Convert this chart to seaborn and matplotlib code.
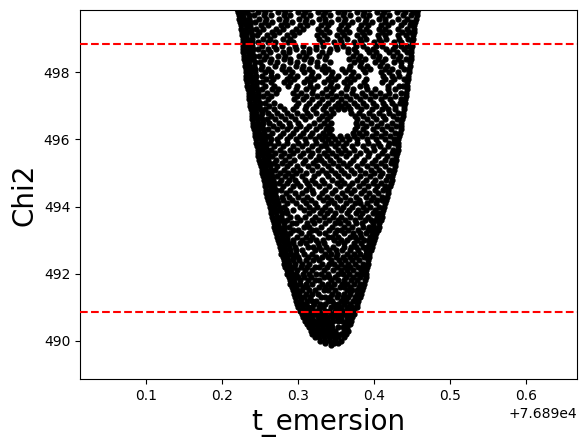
import numpy as np
import pandas as pd
import matplotlib
matplotlib.use("Agg")
import matplotlib.pyplot as plt
import seaborn as sns

# t_emersion values are stored as offsets from T0 in thousandths of a day
T0 = 76890.0

# bottom of the chi2 well
tip_rows = [
    (489.86, [343]),
    (489.92, [336, 347, 352]),
    (490.0, [329, 336, 342, 349, 356]),
    (490.1, [322, 328, 334, 341, 347, 353, 360]),
    (490.2, [319, 325, 331, 338, 344, 350, 357, 363]),
    (490.3, [317, 323, 330, 336, 342, 348, 361, 366]),
    (490.4, [314, 320, 326, 333, 339, 345, 352, 359, 365]),
    (490.5, [312, 318, 325, 331, 337, 343, 362, 368]),
    (490.6, [309, 315, 321, 327, 334, 340, 346, 352, 358, 364, 370]),
    (490.7, [307, 313, 319, 326, 332, 338, 345, 351, 357, 364, 371]),
    (490.8, [305, 311, 317, 324, 330, 336, 343, 349, 355, 362, 368, 373]),
    (490.9, [303, 309, 316, 322, 328, 335, 341, 348, 354, 360, 367, 374]),
]

lower_rows = [
    (491.0, [300, 306, 313, 318, 327, 333, 344, 350, 356, 365, 371, 377]),
    (491.1, [299, 305, 310, 321, 329, 336, 347, 353, 361, 369, 378]),
    (491.2, [298, 304, 312, 318, 324, 339, 345, 357, 363, 372, 379]),
    (491.3, [296, 302, 308, 316, 330, 336, 342, 351, 359, 366, 375, 381]),
    (491.4, [295, 301, 311, 318, 326, 345, 352, 361, 369, 377, 383]),
    (491.5, [293, 299, 305, 315, 322, 334, 340, 349, 364, 371, 378, 384]),
    (491.6, [292, 298, 306, 312, 327, 336, 343, 355, 361, 369, 380, 386]),
    (491.7, [290, 296, 302, 310, 319, 331, 339, 347, 358, 365, 374, 381, 387]),
    (491.8, [289, 295, 303, 313, 322, 328, 344, 352, 360, 370, 378, 388]),
    (491.9, [288, 294, 300, 308, 317, 334, 341, 349, 363, 372, 382, 389]),
    (492.0, [286, 292, 298, 306, 314, 324, 330, 339, 353, 359, 367, 377, 384, 390]),
    (492.1, [285, 291, 299, 309, 318, 334, 346, 356, 364, 372, 383, 390]),
    (492.2, [283, 289, 295, 304, 312, 322, 328, 338, 351, 362, 369, 379, 386, 391]),
    (492.3, [282, 288, 296, 305, 315, 332, 341, 347, 357, 366, 375, 385, 392]),
    (492.4, [281, 287, 293, 301, 310, 320, 327, 344, 354, 362, 371, 380, 392]),
    (492.5, [280, 286, 293, 300, 313, 323, 331, 339, 350, 359, 368, 376, 387, 393]),
    (492.6, [278, 284, 291, 298, 308, 318, 335, 344, 351, 365, 373, 381, 389, 394]),
    (492.7, [277, 283, 289, 297, 305, 322, 330, 341, 350, 358, 369, 379, 390, 396]),
    (492.8, [276, 282, 288, 296, 313, 320, 327, 337, 346, 361, 370, 376, 385, 391, 397]),
    (492.9, [275, 281, 287, 294, 302, 310, 326, 334, 353, 361, 374, 383, 393, 399]),
]

middle_rows = [
    (493.0, [274, 280, 286, 294, 305, 316, 323, 333, 347, 356, 364, 378, 387, 394, 400]),
    (493.1, [273, 279, 285, 299, 310, 319, 339, 345, 353, 368, 375, 383, 395, 401]),
    (493.2, [271, 277, 283, 290, 304, 314, 327, 335, 349, 360, 372, 381, 390, 397, 403]),
    (493.3, [270, 276, 282, 294, 300, 318, 324, 341, 351, 357, 366, 379, 392, 399, 405]),
    (493.4, [269, 275, 281, 288, 308, 315, 330, 345, 360, 371, 386, 394, 400, 406]),
    (493.5, [268, 274, 282, 292, 298, 312, 321, 336, 348, 355, 366, 376, 384, 398, 407]),
    (493.6, [267, 273, 279, 286, 303, 318, 327, 341, 352, 362, 375, 388, 396, 403, 409]),
    (493.7, [266, 272, 278, 290, 299, 309, 322, 334, 346, 357, 369, 381, 392, 404, 410]),
    (493.8, [265, 271, 279, 285, 314, 329, 338, 349, 364, 376, 384, 398, 405, 411]),
    (493.9, [264, 270, 276, 284, 293, 308, 320, 332, 342, 356, 367, 379, 390, 401, 412]),
    (494.0, [263, 269, 275, 281, 302, 315, 325, 336, 351, 359, 371, 386, 395, 407, 413]),
    (494.1, [262, 268, 274, 286, 298, 310, 322, 340, 347, 363, 375, 381, 391, 402, 414]),
    (494.2, [260, 266, 273, 280, 292, 306, 317, 333, 344, 355, 368, 380, 396, 404, 410, 416]),
    (494.3, [259, 265, 271, 279, 288, 300, 312, 327, 338, 351, 362, 376, 389, 398, 411, 417]),
    (494.4, [258, 264, 270, 284, 296, 305, 320, 331, 345, 358, 370, 383, 393, 405, 418]),
    (494.5, [258, 264, 271, 278, 289, 310, 318, 336, 349, 364, 374, 387, 401, 412, 419]),
    (494.6, [257, 263, 269, 280, 293, 302, 315, 328, 341, 355, 367, 380, 392, 404, 415, 421]),
    (494.7, [256, 262, 268, 275, 286, 299, 312, 322, 334, 351, 360, 371, 385, 398, 409, 422]),
    (494.8, [255, 261, 267, 277, 288, 296, 309, 318, 331, 345, 357, 377, 390, 401, 416, 423]),
    (494.9, [254, 260, 266, 272, 283, 292, 305, 321, 339, 352, 366, 382, 395, 408, 418, 424]),
    (495.0, [253, 259, 265, 276, 287, 298, 311, 326, 337, 348, 361, 373, 388, 400, 411, 425]),
    (495.1, [252, 258, 264, 270, 281, 294, 303, 318, 332, 343, 356, 370, 381, 396, 406, 420, 426]),
    (495.2, [251, 257, 263, 272, 285, 299, 313, 325, 339, 352, 364, 378, 391, 402, 415, 427]),
    (495.3, [250, 256, 262, 268, 279, 290, 306, 320, 334, 346, 359, 369, 384, 397, 409, 422, 428]),
    (495.4, [249, 255, 261, 271, 283, 295, 309, 323, 330, 342, 354, 372, 387, 401, 414, 423, 429]),
    (495.5, [248, 254, 260, 266, 277, 288, 302, 316, 327, 338, 350, 363, 376, 392, 405, 417, 429]),
    (495.6, [248, 254, 260, 270, 282, 294, 307, 319, 334, 345, 357, 367, 381, 394, 411, 424, 430]),
    (495.7, [247, 253, 259, 265, 276, 290, 299, 313, 326, 340, 353, 362, 374, 389, 400, 413, 425, 431]),
    (495.8, [246, 252, 258, 268, 280, 293, 305, 318, 330, 337, 348, 359, 371, 386, 398, 408, 419, 431]),
    (495.9, [245, 251, 257, 263, 274, 286, 300, 311, 324, 335, 344, 352, 363, 378, 392, 405, 420, 426, 432]),
]

upper_rows = [
    (496.0, [245, 251, 257, 264, 272, 285, 297, 309, 322, 331, 340, 349, 358, 367, 378, 391, 403, 414, 426, 432]),
    (496.1, [244, 250, 256, 262, 276, 289, 302, 316, 328, 336, 345, 355, 364, 373, 384, 397, 409, 421, 433]),
    (496.2, [243, 249, 255, 266, 280, 293, 306, 318, 333, 341, 372, 380, 390, 402, 415, 428, 434]),
    (496.3, [242, 248, 254, 261, 272, 285, 298, 311, 324, 337, 344, 375, 386, 399, 411, 422, 435]),
    (496.4, [241, 247, 253, 267, 279, 290, 303, 315, 329, 340, 377, 390, 404, 417, 429, 436]),
    (496.5, [241, 247, 254, 262, 275, 288, 300, 321, 334, 343, 376, 384, 396, 409, 424, 436]),
    (496.6, [240, 246, 252, 259, 270, 283, 296, 309, 327, 338, 378, 391, 402, 414, 430, 437]),
    (496.7, [239, 245, 251, 264, 278, 291, 305, 316, 331, 342, 375, 386, 398, 412, 425, 438]),
    (496.8, [239, 245, 252, 260, 273, 286, 299, 312, 324, 337, 346, 370, 380, 394, 407, 420, 432, 438]),
    (496.9, [238, 244, 250, 257, 268, 281, 294, 309, 320, 333, 344, 352, 361, 369, 383, 397, 411, 418, 428, 439]),
    (497.0, [237, 243, 249, 262, 276, 297, 310, 323, 336, 348, 357, 366, 378, 390, 403, 415, 427, 440]),
    (497.1, [237, 243, 250, 257, 268, 300, 314, 327, 339, 352, 362, 373, 385, 399, 412, 423, 434, 441]),
    (497.2, [236, 242, 248, 261, 295, 306, 318, 331, 345, 357, 369, 382, 395, 409, 421, 435, 441]),
    (497.3, [235, 241, 247, 254, 265, 299, 311, 325, 338, 350, 363, 376, 388, 401, 414, 428, 442]),
    (497.4, [235, 241, 248, 259, 271, 293, 304, 319, 332, 343, 356, 371, 384, 396, 408, 420, 436, 442]),
    (497.5, [234, 240, 246, 253, 266, 274, 297, 311, 320, 337, 346, 363, 372, 391, 401, 418, 428, 443]),
    (497.6, [233, 239, 245, 257, 268, 287, 299, 316, 325, 342, 351, 365, 382, 390, 419, 433, 438, 444]),
    (497.7, [233, 239, 246, 253, 264, 281, 290, 308, 316, 334, 344, 360, 369, 387, 411, 422, 444]),
    (497.8, [232, 238, 244, 258, 267, 285, 295, 312, 321, 339, 348, 364, 374, 390, 414, 426, 439, 445]),
    (497.9, [232, 238, 245, 252, 264, 273, 290, 299, 317, 326, 344, 353, 370, 379, 412, 424, 433, 445]),
    (498.0, [231, 237, 243, 256, 265, 283, 292, 308, 318, 336, 345, 362, 372, 388, 409, 420, 431, 446]),
    (498.1, [231, 237, 244, 251, 261, 279, 288, 305, 314, 331, 340, 358, 367, 385, 395, 415, 424, 440, 446]),
    (498.2, [230, 236, 242, 253, 270, 280, 298, 307, 325, 334, 368, 382, 391, 408, 417, 435, 447]),
    (498.3, [230, 236, 243, 250, 263, 273, 290, 299, 316, 325, 342, 373, 383, 401, 410, 426, 435, 447]),
    (498.4, [229, 235, 241, 255, 264, 281, 290, 308, 317, 335, 367, 379, 388, 405, 415, 432, 442, 448]),
    (498.5, [229, 235, 242, 249, 258, 274, 283, 301, 310, 327, 337, 372, 381, 398, 407, 425, 434, 448]),
    (498.6, [228, 234, 240, 254, 263, 280, 288, 306, 315, 332, 341, 366, 376, 393, 403, 420, 430, 443, 449]),
    (498.7, [228, 234, 241, 248, 261, 271, 288, 298, 315, 324, 342, 351, 366, 374, 391, 399, 416, 425, 440, 449]),
    (498.8, [228, 234, 240, 252, 269, 279, 296, 306, 323, 333, 350, 359, 376, 385, 402, 411, 428, 436, 444, 450]),
    (498.9, [227, 233, 240, 247, 261, 270, 287, 294, 332, 347, 356, 374, 383, 400, 409, 426, 435, 450]),
    (499.0, [227, 233, 239, 254, 263, 280, 289, 328, 338, 355, 364, 381, 390, 407, 416, 433, 445, 451]),
    (499.1, [226, 232, 239, 246, 259, 268, 286, 295, 325, 334, 351, 360, 378, 387, 405, 414, 431, 442, 451]),
    (499.2, [226, 232, 238, 249, 266, 275, 292, 301, 330, 341, 358, 367, 384, 394, 411, 420, 437, 446, 452]),
    (499.3, [225, 231, 238, 245, 254, 271, 280, 297, 306, 326, 337, 354, 363, 380, 389, 406, 415, 432, 444, 453]),
    (499.4, [225, 231, 237, 251, 260, 277, 286, 303, 312, 330, 339, 356, 366, 383, 392, 409, 419, 436, 447, 453]),
    (499.5, [224, 230, 237, 244, 257, 266, 283, 292, 309, 318, 335, 344, 361, 371, 388, 397, 414, 423, 440, 448, 454]),
    (499.6, [223, 229, 235, 249, 258, 275, 284, 301, 310, 327, 336, 353, 362, 379, 389, 406, 415, 432, 443, 455]),
    (499.7, [222, 228, 235, 242, 255, 264, 281, 290, 307, 316, 333, 342, 359, 368, 385, 394, 411, 420, 438, 449, 456]),
    (499.8, [221, 227, 233, 248, 257, 274, 283, 300, 309, 326, 335, 352, 361, 378, 387, 404, 413, 430, 441, 451, 457]),
    (499.9, [220, 226, 233, 240, 254, 263, 280, 289, 306, 315, 332, 341, 358, 367, 384, 393, 410, 419, 436, 447, 458]),
]

chi2_min = 489.86
sigma_levels = [1, 9]

records = []
for chi2, ts in tip_rows + lower_rows + middle_rows + upper_rows:
    for t in ts:
        records.append({"t_emersion": T0 + t / 1000.0, "Chi2": chi2})
df = pd.DataFrame(records)

fig = plt.figure(figsize=(5.85, 4.47), dpi=100)
ax = fig.add_axes([80 / 585, 1 - 379 / 447, 497 / 585, 369 / 447])

sns.scatterplot(data=df, x="t_emersion", y="Chi2", ax=ax, color="black",
                marker=".", s=49, edgecolor="black", linewidth=1.0, zorder=2)

for lvl in sigma_levels:
    ax.axhline(chi2_min + lvl, color="red", linestyle="--", linewidth=1.5, zorder=3)

ax.set_xlim(T0 + 0.0132, T0 + 0.667)
ax.set_ylim(chi2_min - 1, chi2_min + 10)
ax.set_xlabel("t_emersion", fontsize=20)
ax.set_ylabel("Chi2", fontsize=20)

fig.savefig("out.png", dpi=100)
